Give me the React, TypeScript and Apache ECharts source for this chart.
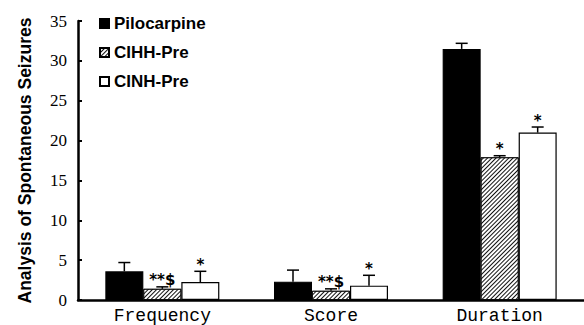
import React, { useEffect, useRef } from "react";
import * as echarts from "echarts";

const categories = ["Frequency", "Score", "Duration"];
const seriesNames = ["Pilocarpine", "CIHH-Pre", "CINH-Pre"];
const pilocarpine = [3.6, 2.3, 31.5];
const pilocarpineErr = [1.1, 1.45, 0.7];
const cihh = [1.4, 1.15, 17.9];
const cihhErr = [0.25, 0.25, 0.2];
const cinh = [2.25, 1.8, 21.0];
const cinhErr = [1.35, 1.3, 0.7];
const pilocarpineMarks = ["", "", ""];
const cihhMarks = ["**$", "**$", "*"];
const cinhMarks = ["*", "*", "*"];
const yTicks = [0, 5, 10, 15, 20, 25, 30, 35];

const BAR_W = 38;

function errSeries(values: number[], errs: number[], marks: string[], offset: number) {
  return {
    type: "custom",
    z: 5,
    silent: true,
    data: values.map((v, i) => [i, v, errs[i]]),
    renderItem: (params: any, api: any) => {
      const idx = api.value(0);
      const v = api.value(1);
      const e = api.value(2);
      const p0 = api.coord([idx, v]);
      const p1 = api.coord([idx, v + e]);
      const cx = p0[0] + offset;
      const children: any[] = [
        { type: "line", shape: { x1: cx, y1: p0[1], x2: cx, y2: p1[1] }, style: { stroke: "#000", lineWidth: 1.5 } },
        { type: "line", shape: { x1: cx - 6, y1: p1[1], x2: cx + 6, y2: p1[1] }, style: { stroke: "#000", lineWidth: 1.5 } },
      ];
      const m = marks[params.dataIndex];
      if (m) {
        children.push({
          type: "text",
          x: cx,
          y: p1[1] + 1,
          style: { text: m, fill: "#000", font: "bold 15px 'DejaVu Sans'", textAlign: "center", textVerticalAlign: "bottom" },
        });
      }
      return { type: "group", children };
    },
  };
}

export default function App() {
  const ref = useRef<HTMLDivElement>(null);
  useEffect(() => {
    document.body.style.margin = "0";
    const chart = echarts.init(ref.current!, null, { renderer: "svg" });
    const border = { borderColor: "#000", borderWidth: 1.2 };
    chart.setOption({
      animation: false,
      grid: { left: 78, right: 0, top: 21, bottom: 24 },
      legend: {
        orient: "vertical",
        left: 94,
        top: 10,
        icon: "rect",
        itemWidth: 9,
        itemHeight: 9,
        itemGap: 12,
        data: seriesNames,
        textStyle: { fontFamily: "Liberation Sans", fontWeight: "bold", fontSize: 17, color: "#000", lineHeight: 17 },
      },
      xAxis: {
        type: "category",
        data: categories,
        axisLine: { lineStyle: { color: "#000", width: 2.5 } },
        axisTick: { inside: true, length: 4, lineStyle: { color: "#000", width: 2 } },
        axisLabel: { fontFamily: "Liberation Mono", fontSize: 18, color: "#000", margin: 7 },
      },
      yAxis: {
        type: "value",
        min: yTicks[0],
        max: yTicks[yTicks.length - 1],
        interval: 5,
        name: "Analysis of Spontaneous Seizures",
        nameLocation: "middle",
        nameGap: 44,
        nameTextStyle: { fontFamily: "Liberation Sans", fontWeight: "bold", fontSize: 17.5, color: "#000" },
        splitLine: { show: false },
        axisLine: { show: true, lineStyle: { color: "#000", width: 2.5 } },
        axisTick: { show: true, inside: true, length: 4, lineStyle: { color: "#000", width: 2 } },
        axisLabel: { fontFamily: "Liberation Serif", fontSize: 17, color: "#000", margin: 11 },
      },
      series: [
        {
          name: seriesNames[0],
          type: "bar",
          barWidth: BAR_W,
          barGap: "0%",
          data: pilocarpine,
          itemStyle: { color: "#000", ...border },
        },
        {
          name: seriesNames[1],
          type: "bar",
          barWidth: BAR_W,
          barGap: "0%",
          data: cihh,
          itemStyle: {
            color: "#fff",
            borderColor: "#000",
            borderWidth: 0.8,
            decal: {
              symbol: "rect",
              symbolSize: 1,
              color: "#111",
              dashArrayX: [1, 0],
              dashArrayY: [1, 1.5],
              rotation: -Math.PI / 4,
            },
          },
        },
        {
          name: seriesNames[2],
          type: "bar",
          barWidth: BAR_W,
          barGap: "0%",
          data: cinh,
          itemStyle: { color: "#fff", ...border },
        },
        errSeries(pilocarpine, pilocarpineErr, pilocarpineMarks, -BAR_W),
        errSeries(cihh, cihhErr, cihhMarks, 0),
        errSeries(cinh, cinhErr, cinhMarks, BAR_W),
      ],
    });
    return () => chart.dispose();
  }, []);
  return <div ref={ref} style={{ width: 584, height: 325 }} />;
}
